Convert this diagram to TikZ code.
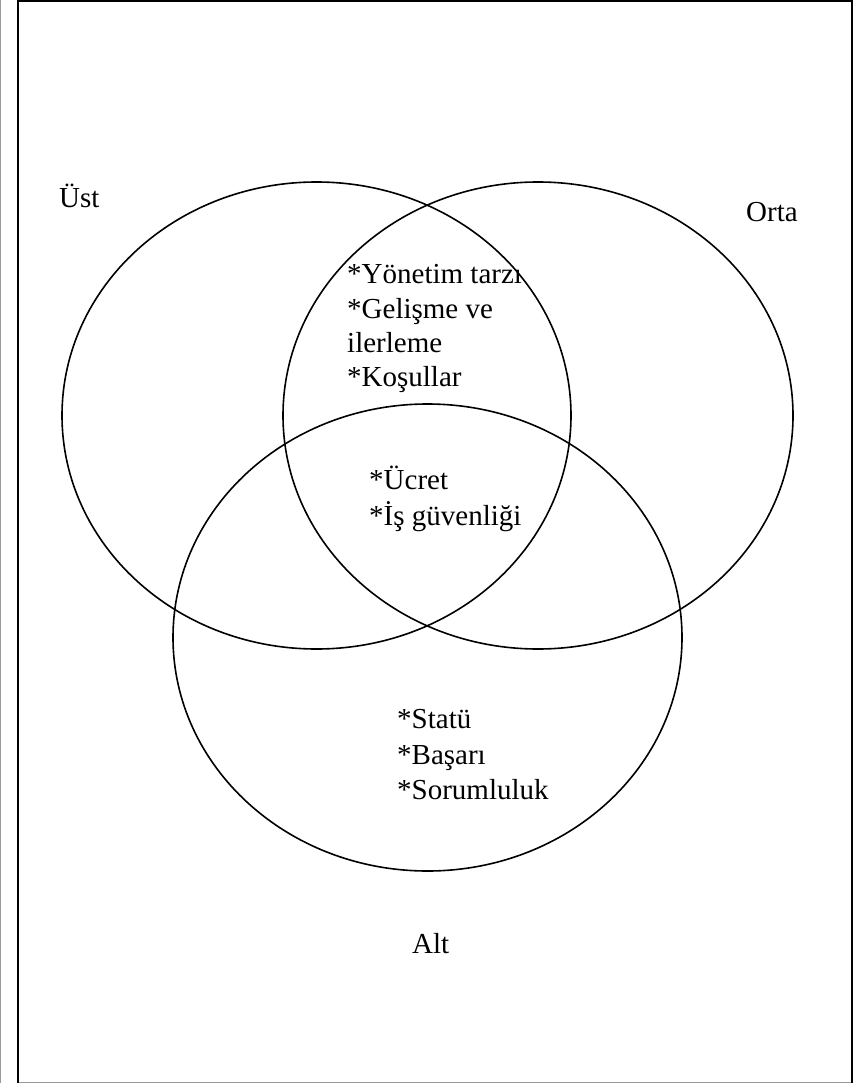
\documentclass[tikz,border=0pt]{standalone}
\usepackage{fontspec}
\setmainfont{Liberation Serif}
\begin{document}
\begin{tikzpicture}[x=1pt,y=-1pt,
  setcircle/.style={line width=1.6pt},
  frameline/.style={line width=1.8pt,black},
  grayline/.style={line width=1pt,black!40},
  lbl/.style={anchor=base west,inner sep=0pt,font=\fontsize{29}{34}\selectfont}]
\useasboundingbox (0,0) rectangle (854,1083);
% frame
\draw[grayline] (0.5,0) -- (0.5,1083);
\draw[grayline] (18,1082.5) -- (852,1082.5);
\draw[frameline] (18,1083) -- (18,1) -- (852,1) -- (852,1083);
% ellipses
\coordinate (cu) at (316.5,415.5);
\coordinate (co) at (538,415.5);
\coordinate (ca) at (427.5,637.5);
\draw[setcircle] (cu) ellipse [x radius=254.5, y radius=233.5];
\draw[setcircle] (co) ellipse [x radius=255, y radius=233.5];
\draw[setcircle] (ca) ellipse [x radius=254.5, y radius=233.5];
% labels
\node[lbl] (ust) at (59,208) {Üst};
\node[lbl] (orta) at (746,222) {Orta};
\node[lbl] (alt) at (412,953) {Alt};
\node[lbl] (t1) at (347,283) {*Yönetim tarzı};
\node[lbl] (t2) at (347,318) {*Gelişme ve};
\node[lbl] (t3) at (347,352) {ilerleme};
\node[lbl] (t4) at (347,386) {*Koşullar};
\node[lbl] (t5) at (369,489) {*Ücret};
\node[lbl] (t6) at (369,525) {*İş güvenliği};
\node[lbl] (t7) at (397,728) {*Statü};
\node[lbl] (t8) at (397,764) {*Başarı};
\node[lbl] (t9) at (397,799) {*Sorumluluk};
\end{tikzpicture}
\end{document}
